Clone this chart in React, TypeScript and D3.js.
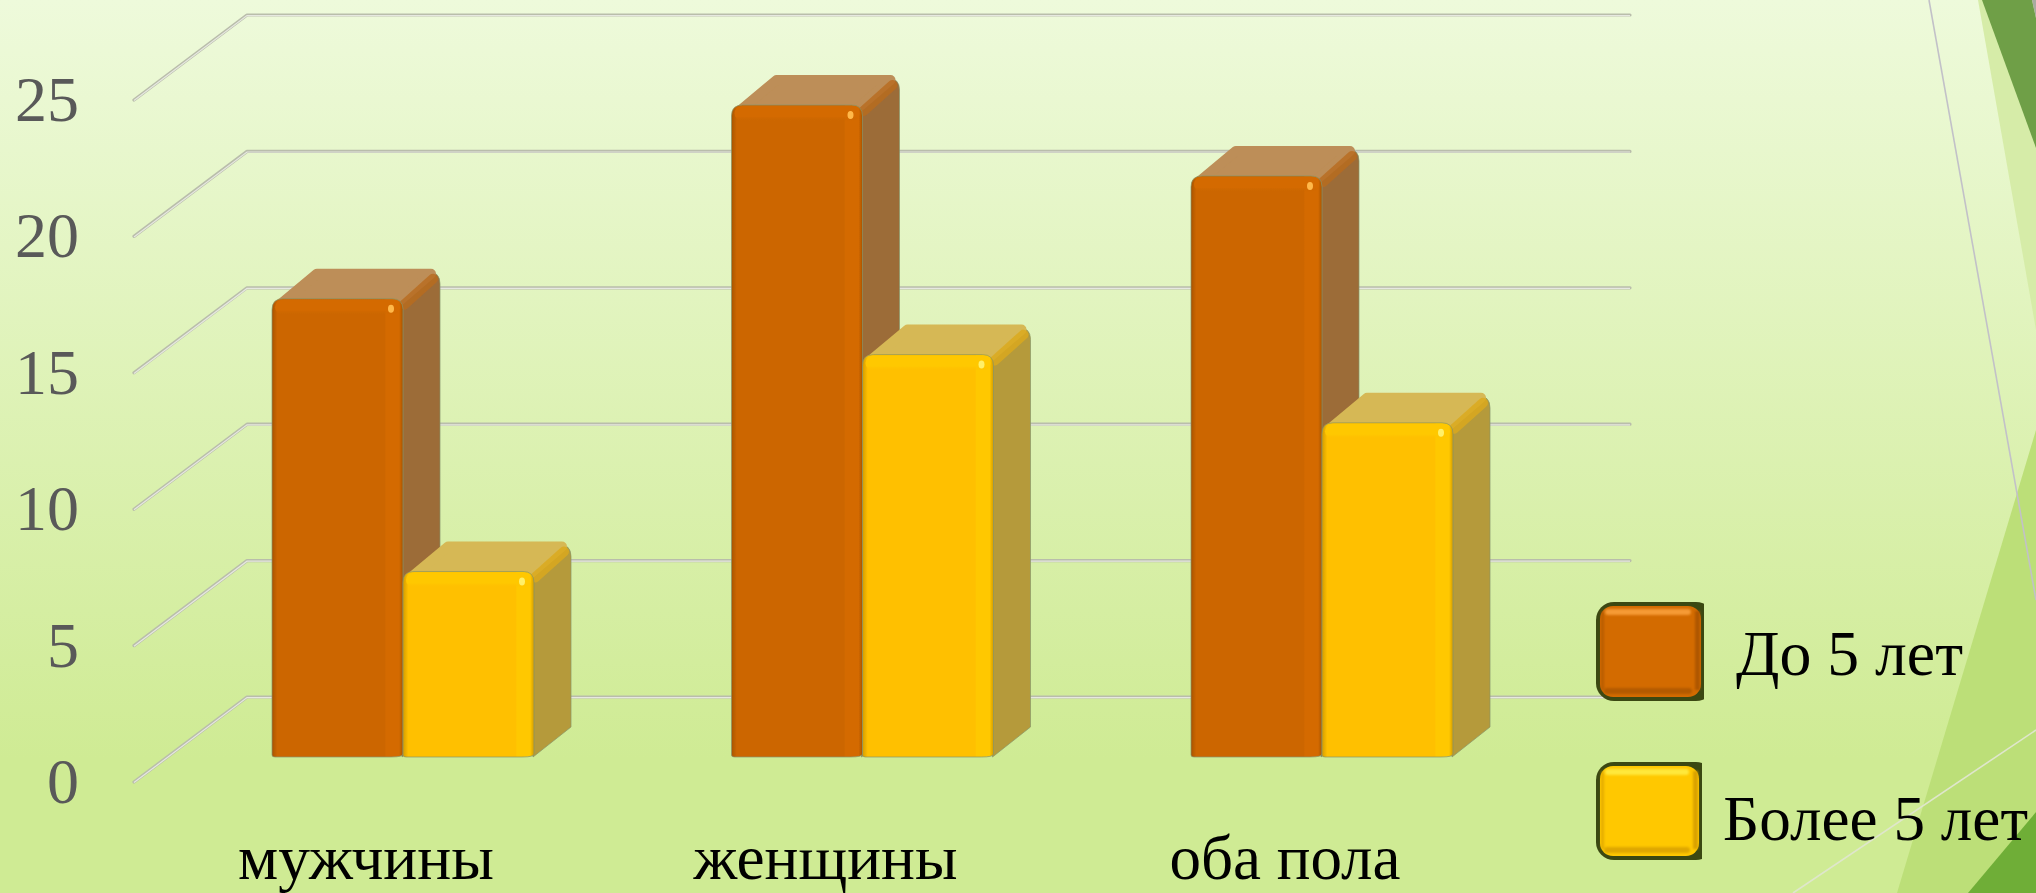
import React from "react";
import * as d3 from "d3";

const categories = ["мужчины", "женщины", "оба пола"];
const seriesNames = ["До 5 лет", "Более 5 лет"];
const under5 = [16.8, 23.9, 21.3];
const over5 = [6.8, 14.75, 12.25];
const yTicks = [0, 5, 10, 15, 20, 25];

const W = 2036, H = 893;
const DX = 37, DY = 30;
const wallDx = 113, wallDy = 85;
const font = "'Liberation Serif', serif";

const yBack = d3.scaleLinear().domain([0, 25]).range([697, 15]);
const frontOffset = 60; // bars stand between the back wall and the front of the floor
const xGroup = d3.scaleBand<string>().domain(categories).range([173.25, 1551.75]);
const xSeries = d3.scaleBand<string>().domain(seriesNames).range([-131, 131]);

const palette = [
  { id: "o", face: "#cc6600", band: "#d46a00", top: "#bd8e58", side: "#9c6c38", rim: "#b96c20", dark: "#a85400", hi: "#ffb84a", legend: "#d36b00", legendHi: "#f59a35" },
  { id: "y", face: "#ffc000", band: "#ffc800", top: "#d6b855", side: "#b59a3a", rim: "#dcaa1e", dark: "#d49c00", hi: "#fff06a", legend: "#ffc800", legendHi: "#ffe83a" },
];

const labelWidths = [256, 264, 231];
const poly = (pts: number[][]) => "M" + pts.map((p) => p.join(",")).join("L") + "Z";

function Bar3D({ x, w, value, c }: { x: number; w: number; value: number; c: (typeof palette)[number] }) {
  const bottom = yBack(0) + frontOffset;
  const top = yBack(value) + frontOffset;
  const edge = "rgba(135,150,105,0.7)";
  const rx = x + w + DX;
  const by = top - DY;
  const side =
    `M${x + w - 1},${top + 4} L${rx - 12},${by + 3} Q${rx},${by + 3} ${rx},${by + 15} ` +
    `L${rx},${bottom - DY} L${x + w - 1},${bottom} Z`;
  return (
    <g filter="url(#soft)">
      <path d={side} fill={c.side} stroke={edge} strokeWidth={1} />
      <path
        d={poly([[x + 9, top + 5], [x + DX + 8, by + 5], [x + w + DX - 9, by + 5], [x + w - 7, top + 5]])}
        fill={c.top}
        stroke={c.top}
        strokeWidth={10}
        strokeLinejoin="round"
      />
      <line x1={x + w + 1} y1={top + 6} x2={rx - 7} y2={by + 10} stroke={c.rim} strokeWidth={10} strokeLinecap="round" opacity={0.8} />
      <path
        d={`M${x},${bottom - 2} L${x},${top + 11} Q${x},${top} ${x + 11},${top} L${x + w - 11},${top} Q${x + w},${top} ${x + w},${top + 11} L${x + w},${bottom - 3} Q${x + w},${bottom} ${x + w - 12},${bottom} L${x + 3},${bottom} Q${x},${bottom} ${x},${bottom - 2} Z`}
        fill={`url(#face-${c.id})`}
        stroke={edge}
        strokeWidth={1}
      />
      <rect x={x + 3} y={top + 1} width={w - 6} height={15} rx={8} fill={`url(#cap-${c.id})`} />
      <ellipse cx={x + w - 12} cy={top + 10} rx={3} ry={4} fill={c.hi} />
    </g>
  );
}

function Swatch({ x, y, w, h, clipW, c }: { x: number; y: number; w: number; h: number; clipW: number; c: (typeof palette)[number] }) {
  return (
    <g clipPath={`url(#sw-${c.id})`}>
      <clipPath id={`sw-${c.id}`}>
        <rect x={x} y={y} width={clipW} height={h} />
      </clipPath>
      <rect x={x} y={y} width={w} height={h} rx={18} fill="#3b4812" />
      <rect x={x + 4} y={y + 4} width={clipW - 7} height={h - 8} rx={13} fill={c.legend} />
      <g filter="url(#soft2)">
        <rect x={x + 9} y={y + 7} width={clipW - 22} height={6} rx={3} fill={c.legendHi} />
        <rect x={x + 8} y={y + h - 13} width={clipW - 20} height={6} rx={3} fill={c.dark} opacity={0.75} />
        <rect x={x + clipW - 9} y={y + 9} width={5} height={h - 20} fill={c.dark} opacity={0.85} />
        <rect x={x + 5} y={y + 9} width={3} height={h - 20} fill={c.dark} opacity={0.6} />
      </g>
    </g>
  );
}

export default function App() {
  const bw = xSeries.bandwidth();
  const series = [under5, over5];
  return (
    <svg width={W} height={H} style={{ position: "fixed", left: 0, top: 0, display: "block" }} fontFamily={font}>
      <defs>
        <filter id="soft" x="-5%" y="-5%" width="110%" height="110%">
          <feGaussianBlur stdDeviation="0.6" />
        </filter>
        <filter id="soft2" x="-20%" y="-20%" width="140%" height="140%">
          <feGaussianBlur stdDeviation="1.2" />
        </filter>
        <linearGradient id="bg" x1="0" y1="0" x2="0" y2="1">
          <stop offset="0" stopColor="#eefadb" />
          <stop offset="0.85" stopColor="#cfeb94" />
          <stop offset="1" stopColor="#cfeb94" />
        </linearGradient>
        {palette.map((c) => (
          <React.Fragment key={c.id}>
            <linearGradient id={`face-${c.id}`} x1="0" y1="0" x2="1" y2="0">
              <stop offset="0" stopColor={c.dark} />
              <stop offset="0.04" stopColor={c.face} />
              <stop offset="0.86" stopColor={c.face} />
              <stop offset="0.87" stopColor={c.band} />
              <stop offset="0.97" stopColor={c.band} />
              <stop offset="1" stopColor={c.dark} />
            </linearGradient>
            <linearGradient id={`cap-${c.id}`} x1="0" y1="0" x2="0" y2="1">
              <stop offset="0" stopColor={c.band} stopOpacity={1} />
              <stop offset="0.7" stopColor={c.band} stopOpacity={1} />
              <stop offset="1" stopColor={c.face} stopOpacity={0} />
            </linearGradient>
          </React.Fragment>
        ))}
      </defs>

      <rect width={W} height={H} fill="url(#bg)" />
      <path d={poly([[1978, 0], [2036, 0], [2036, 330]])} fill="#d6eca8" />
      <path d={poly([[1982, 0], [2032, 0], [2036, 18], [2036, 148]])} fill="#6f9f47" />
      <path d={poly([[2032, 0], [2036, 0], [2036, 18]])} fill="#a8aba0" />
      <path d={poly([[2036, 430], [1897, 893], [2036, 893]])} fill="#bcdf78" />
      <path d={poly([[2036, 812], [1968, 893], [2036, 893]])} fill="#6fae37" />
      <line x1={1929} y1={0} x2={2036} y2={600} stroke="#c2c1c8" strokeWidth={1.6} />
      <line x1={1793} y1={893} x2={2036} y2={730} stroke="#dfe6cc" strokeWidth={1.6} />

      {yTicks.map((t) => {
        const y = yBack(t);
        const pts = `${247 - wallDx},${y + wallDy} 247,${y} 1630,${y}`;
        return (
          <g key={t}>
            <polyline points={pts} fill="none" stroke="#b9bdab" strokeWidth={3.2} strokeLinejoin="round" strokeLinecap="round" />
            <polyline points={pts} fill="none" stroke="#e6e8e0" strokeWidth={1.2} transform="translate(0,0.6)" />
            <text x={79} y={y + wallDy + 21} textAnchor="end" fontSize={64} fill="#595959">
              {t}
            </text>
          </g>
        );
      })}

      {categories.map((cat, i) => {
        const x0 = xGroup(cat)! + xGroup.bandwidth() / 2;
        return (
          <g key={cat}>
            {seriesNames.map((s, j) => (
              <Bar3D key={s} x={x0 + xSeries(s)!} w={bw} value={series[j][i]} c={palette[j]} />
            ))}
            <text x={x0 - 37} y={879} textAnchor="middle" fontSize={64} fill="#000" textLength={labelWidths[i]} lengthAdjust="spacingAndGlyphs">
              {cat}
            </text>
          </g>
        );
      })}

      <Swatch x={1596} y={602} w={118} h={99} clipW={108} c={palette[0]} />
      <Swatch x={1596} y={762} w={118} h={98} clipW={106} c={palette[1]} />
      <text x={1736} y={675} fontSize={64} fill="#000" textLength={227} lengthAdjust="spacingAndGlyphs">
        {seriesNames[0]}
      </text>
      <text x={1723} y={840} fontSize={64} fill="#000" textLength={305} lengthAdjust="spacingAndGlyphs">
        {seriesNames[1]}
      </text>
    </svg>
  );
}
